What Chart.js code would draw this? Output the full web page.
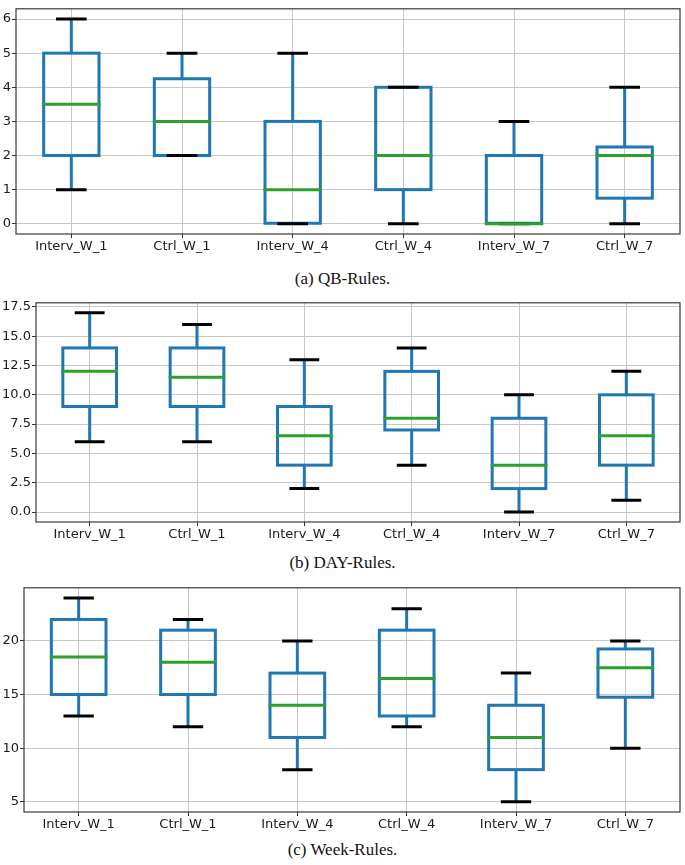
<!DOCTYPE html>
<html>
<head>
<meta charset="utf-8">
<script src="https://cdn.jsdelivr.net/npm/chart.js@4.4.0/dist/chart.umd.min.js"></script>
<style>
  body { margin: 0; background: #fff; }
  .panel { position: absolute; left: 0; }
  .caption {
    position: absolute; left: 0; width: 685px; text-align: center;
    font-family: 'Liberation Serif', 'DejaVu Serif', serif; font-size: 17px;
    line-height: 20px; color: #111;
  }
</style>
</head>
<body>
<canvas id="qbChart" class="panel" width="685" height="254" style="top:0px"></canvas>
<div class="caption" style="top:269px">(a) QB-Rules.</div>
<canvas id="dayChart" class="panel" width="685" height="248" style="top:294px"></canvas>
<div class="caption" style="top:553px">(b) DAY-Rules.</div>
<canvas id="weekChart" class="panel" width="685" height="253" style="top:579px"></canvas>
<div class="caption" style="top:840px">(c) Week-Rules.</div>

<script>
// categories shared by all three panels
const categories = ['Interv_W_1', 'Ctrl_W_1', 'Interv_W_4', 'Ctrl_W_4', 'Interv_W_7', 'Ctrl_W_7'];

// (a) QB-Rules
const qbMin    = [1, 2, 0, 0, 0, 0];
const qbQ1     = [2, 2, 0, 1, 0, 0.75];
const qbMedian = [3.5, 3, 1, 2, 0, 2];
const qbQ3     = [5, 4.25, 3, 4, 2, 2.25];
const qbMax    = [6, 5, 5, 4, 3, 4];

// (b) DAY-Rules
const dayMin    = [6, 6, 2, 4, 0, 1];
const dayQ1     = [9, 9, 4, 7, 2, 4];
const dayMedian = [12, 11.5, 6.5, 8, 4, 6.5];
const dayQ3     = [14, 14, 9, 12, 8, 10];
const dayMax    = [17, 16, 13, 14, 10, 12];

// (c) Week-Rules
const weekMin    = [13, 12, 8, 12, 5, 10];
const weekQ1     = [15, 15, 11, 13, 8, 14.75];
const weekMedian = [18.5, 18, 14, 16.5, 11, 17.5];
const weekQ3     = [22, 21, 17, 21, 14, 19.25];
const weekMax    = [24, 22, 20, 23, 17, 20];

const BOX_BLUE = '#1f77b4';
const MED_GREEN = '#2ca02c';
const LW = 3;

// dessine les boîtes, moustaches et médianes à partir des barres flottantes
const boxPlotPlugin = {
    id: 'boxPlot',
    afterDatasetsDraw(chart, args, opts) {
        const ctx = chart.ctx;
        const yScale = chart.scales.y;
        const meta = chart.getDatasetMeta(0);
        const area = chart.chartArea;

        ctx.save();
        ctx.beginPath();
        ctx.rect(area.left, area.top, area.right - area.left, area.bottom - area.top);
        ctx.clip();

        meta.data.forEach((bar, i) => {
            const p = bar.getProps(['x', 'y', 'base', 'width'], true);
            const half = p.width / 2;
            const capHalf = p.width / 4;
            const yMin = yScale.getPixelForValue(opts.min[i]);
            const yMax = yScale.getPixelForValue(opts.max[i]);
            const yMed = yScale.getPixelForValue(opts.median[i]);
            const top = Math.min(p.y, p.base), bottom = Math.max(p.y, p.base);

            ctx.lineWidth = LW;
            // boîte
            ctx.strokeStyle = BOX_BLUE;
            ctx.lineJoin = 'miter';
            ctx.strokeRect(p.x - half, top, p.width, bottom - top);
            // moustaches
            ctx.lineCap = 'butt';
            ctx.beginPath();
            ctx.moveTo(p.x, top); ctx.lineTo(p.x, yMax);
            ctx.moveTo(p.x, bottom); ctx.lineTo(p.x, yMin);
            ctx.stroke();
            // extrémités
            ctx.strokeStyle = '#000';
            ctx.lineCap = 'square';
            ctx.beginPath();
            ctx.moveTo(p.x - capHalf, yMax); ctx.lineTo(p.x + capHalf, yMax);
            ctx.moveTo(p.x - capHalf, yMin); ctx.lineTo(p.x + capHalf, yMin);
            ctx.stroke();
            // médiane
            ctx.strokeStyle = MED_GREEN;
            ctx.beginPath();
            ctx.moveTo(p.x - half, yMed); ctx.lineTo(p.x + half, yMed);
            ctx.stroke();
        });
        ctx.restore();

        // cadre
        ctx.save();
        ctx.strokeStyle = '#3a3a3a';
        ctx.lineWidth = 1.2;
        ctx.strokeRect(area.left, area.top, area.right - area.left, area.bottom - area.top);
        ctx.restore();
    }
};

function makeBoxChart(id, stats, yOpts, axisWidth) {
    const ctx = document.getElementById(id).getContext('2d');
    return new Chart(ctx, {
        type: 'bar',
        data: {
            labels: categories,
            datasets: [{
                data: stats.q1.map((v, i) => [v, stats.q3[i]]),
                backgroundColor: 'rgba(0,0,0,0)',
                borderWidth: 0,
                barPercentage: 0.5,
                categoryPercentage: 1
            }]
        },
        options: {
            responsive: false,
            devicePixelRatio: 1,
            animation: false,
            layout: { padding: { top: 4, right: 5, left: 0, bottom: 0 } },
            plugins: {
                legend: { display: false },
                tooltip: { enabled: false },
                boxPlot: stats
            },
            scales: {
                x: {
                    offset: true,
                    grid: { offset: false, color: '#c8c8c8', lineWidth: 1, tickLength: 4, tickColor: '#333' },
                    border: { display: false },
                    ticks: { color: '#1a1a1a', padding: 1, maxRotation: 0, font: { family: 'DejaVu Sans', size: 13 } },
                    afterFit: s => { s.height = 20; }
                },
                y: {
                    min: yOpts.min,
                    max: yOpts.max,
                    grid: { color: '#c8c8c8', lineWidth: 1, tickLength: 4, tickColor: '#333' },
                    border: { display: false },
                    ticks: {
                        stepSize: yOpts.step,
                        includeBounds: false,
                        color: '#1a1a1a',
                        padding: 1,
                        font: { family: 'DejaVu Sans', size: 13 },
                        callback: yOpts.format
                    },
                    afterFit: s => { s.width = axisWidth; }
                }
            }
        },
        plugins: [boxPlotPlugin]
    });
}

document.addEventListener('DOMContentLoaded', function() {
    makeBoxChart('qbChart',
        { min: qbMin, q1: qbQ1, median: qbMedian, q3: qbQ3, max: qbMax },
        { min: -0.3, max: 6.3, step: 1, format: v => String(v) }, 16);

    makeBoxChart('dayChart',
        { min: dayMin, q1: dayQ1, median: dayMedian, q3: dayQ3, max: dayMax },
        { min: -0.85, max: 17.85, step: 2.5, format: v => v.toFixed(1) }, 36);

    makeBoxChart('weekChart',
        { min: weekMin, q1: weekQ1, median: weekMedian, q3: weekQ3, max: weekMax },
        { min: 4.05, max: 24.95, step: 5, format: v => String(v) }, 24);
});
</script>
</body>
</html>
